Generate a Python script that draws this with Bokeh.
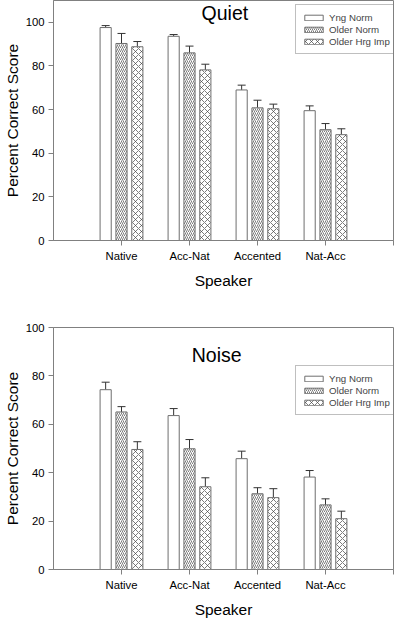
from bokeh.plotting import figure
from bokeh.layouts import column
from bokeh.models import (ColumnDataSource, FixedTicker, Label, Legend, LegendItem,
                          Whisker, TeeHead)
from bokeh.embed import file_html
from bokeh.resources import INLINE

speakers = ["Native", "Acc-Nat", "Accented", "Nat-Acc"]
groups = ["Yng Norm", "Older Norm", "Older Hrg Imp"]

quiet_yng = [97.6, 93.6, 69.0, 59.5]
quiet_yng_err = [0.9, 0.8, 2.2, 2.2]
quiet_on = [90.3, 86.0, 60.8, 50.8]
quiet_on_err = [4.6, 3.1, 3.5, 2.8]
quiet_ohi = [88.8, 78.2, 60.4, 48.5]
quiet_ohi_err = [2.4, 2.6, 2.1, 2.7]

noise_yng = [74.3, 63.6, 45.8, 38.2]
noise_yng_err = [3.1, 2.9, 3.1, 2.7]
noise_on = [65.1, 49.9, 31.3, 26.7]
noise_on_err = [2.2, 3.8, 2.5, 2.5]
noise_ohi = [49.6, 34.2, 29.7, 21.0]
noise_ohi_err = [3.2, 3.7, 3.7, 3.1]

FONT = "Liberation Sans"
offsets = [-0.233, 0.0, 0.233]
bar_w = 0.164
hatches = [" ", "/", "x"]
hatch_scales = [5, 4, 6]


def make_panel(title, title_x, title_y, series, errs, y_max, height,
               border_top, border_bottom, legend_x, legend_y):
    p = figure(width=394, height=height, x_range=(0, 5), y_range=(0, y_max),
               output_backend="svg", toolbar_location=None,
               min_border_left=48, min_border_right=1,
               min_border_top=border_top, min_border_bottom=border_bottom)
    p.xgrid.visible = False
    p.ygrid.visible = False
    p.outline_line_color = "#808080"
    p.outline_line_width = 1
    p.background_fill_color = "white"

    items = []
    for gi, (vals, ers) in enumerate(zip(series, errs)):
        xs = [i + 1 + offsets[gi] for i in range(len(speakers))]
        src = ColumnDataSource(dict(x=xs, top=vals,
                                    upper=[v + e for v, e in zip(vals, ers)]))
        r = p.vbar(x="x", top="top", bottom=0, width=bar_w, source=src,
                   fill_color="white", line_color="#6e6e6e", line_width=1,
                   hatch_pattern=hatches[gi], hatch_color="#444444",
                   hatch_scale=hatch_scales[gi], hatch_weight=0.7)
        w = Whisker(source=src, base="x", lower="top", upper="upper",
                    line_color="#333333", line_width=1, lower_head=None,
                    upper_head=TeeHead(size=8, line_color="#333333", line_width=1))
        p.add_layout(w)
        items.append(LegendItem(label=groups[gi], renderers=[r]))

    legend = Legend(items=items, location=(legend_x, legend_y),
                    label_text_font=FONT, label_text_font_size="9.7px",
                    glyph_width=23, glyph_height=7, label_height=12,
                    label_standoff=4, spacing=0, padding=6, margin=0,
                    border_line_color="#808080", border_line_width=1,
                    background_fill_color="white", background_fill_alpha=1)
    p.add_layout(legend, "center")

    p.add_layout(Label(x=title_x, y=title_y, text=title, text_font=FONT,
                       text_font_size="19.5px", text_align="center",
                       text_baseline="middle", text_color="black"))

    p.xaxis.ticker = FixedTicker(ticks=[1, 2, 3, 4, 5])
    p.xaxis.major_label_overrides = {1: speakers[0], 2: speakers[1],
                                     3: speakers[2], 4: speakers[3], 5: ""}
    p.yaxis.ticker = FixedTicker(ticks=[0, 20, 40, 60, 80, 100])
    p.xaxis.axis_label = "Speaker"
    p.yaxis.axis_label = "Percent Correct Score"
    for ax in (p.xaxis, p.yaxis):
        ax.axis_line_color = "#808080"
        ax.major_tick_line_color = "#808080"
        ax.major_tick_out = 5
        ax.major_tick_in = 0
        ax.minor_tick_line_color = None
        ax.major_label_text_font = FONT
        ax.major_label_text_font_size = "11.3px"
        ax.major_label_text_color = "black"
        ax.axis_label_text_font = FONT
        ax.axis_label_text_font_size = "15.5px"
        ax.axis_label_text_font_style = "normal"
        ax.axis_label_text_color = "black"
    p.xaxis.major_label_standoff = 4
    p.xaxis.axis_label_standoff = 7
    p.yaxis.major_label_standoff = 4
    p.yaxis.axis_label_standoff = 2
    return p


p1 = make_panel("Quiet", 2.52, 104.3, [quiet_yng, quiet_on, quiet_ohi],
                [quiet_yng_err, quiet_on_err, quiet_ohi_err], 110, 292, 0, 52,
                242, 186)
p2 = make_panel("Noise", 2.4, 88.7, [noise_yng, noise_on, noise_ohi],
                [noise_yng_err, noise_on_err, noise_ohi_err], 100, 328, 35, 46,
                242, 154)

layout = column(p1, p2, spacing=0)
open("out.html", "w").write(file_html(layout, INLINE))
